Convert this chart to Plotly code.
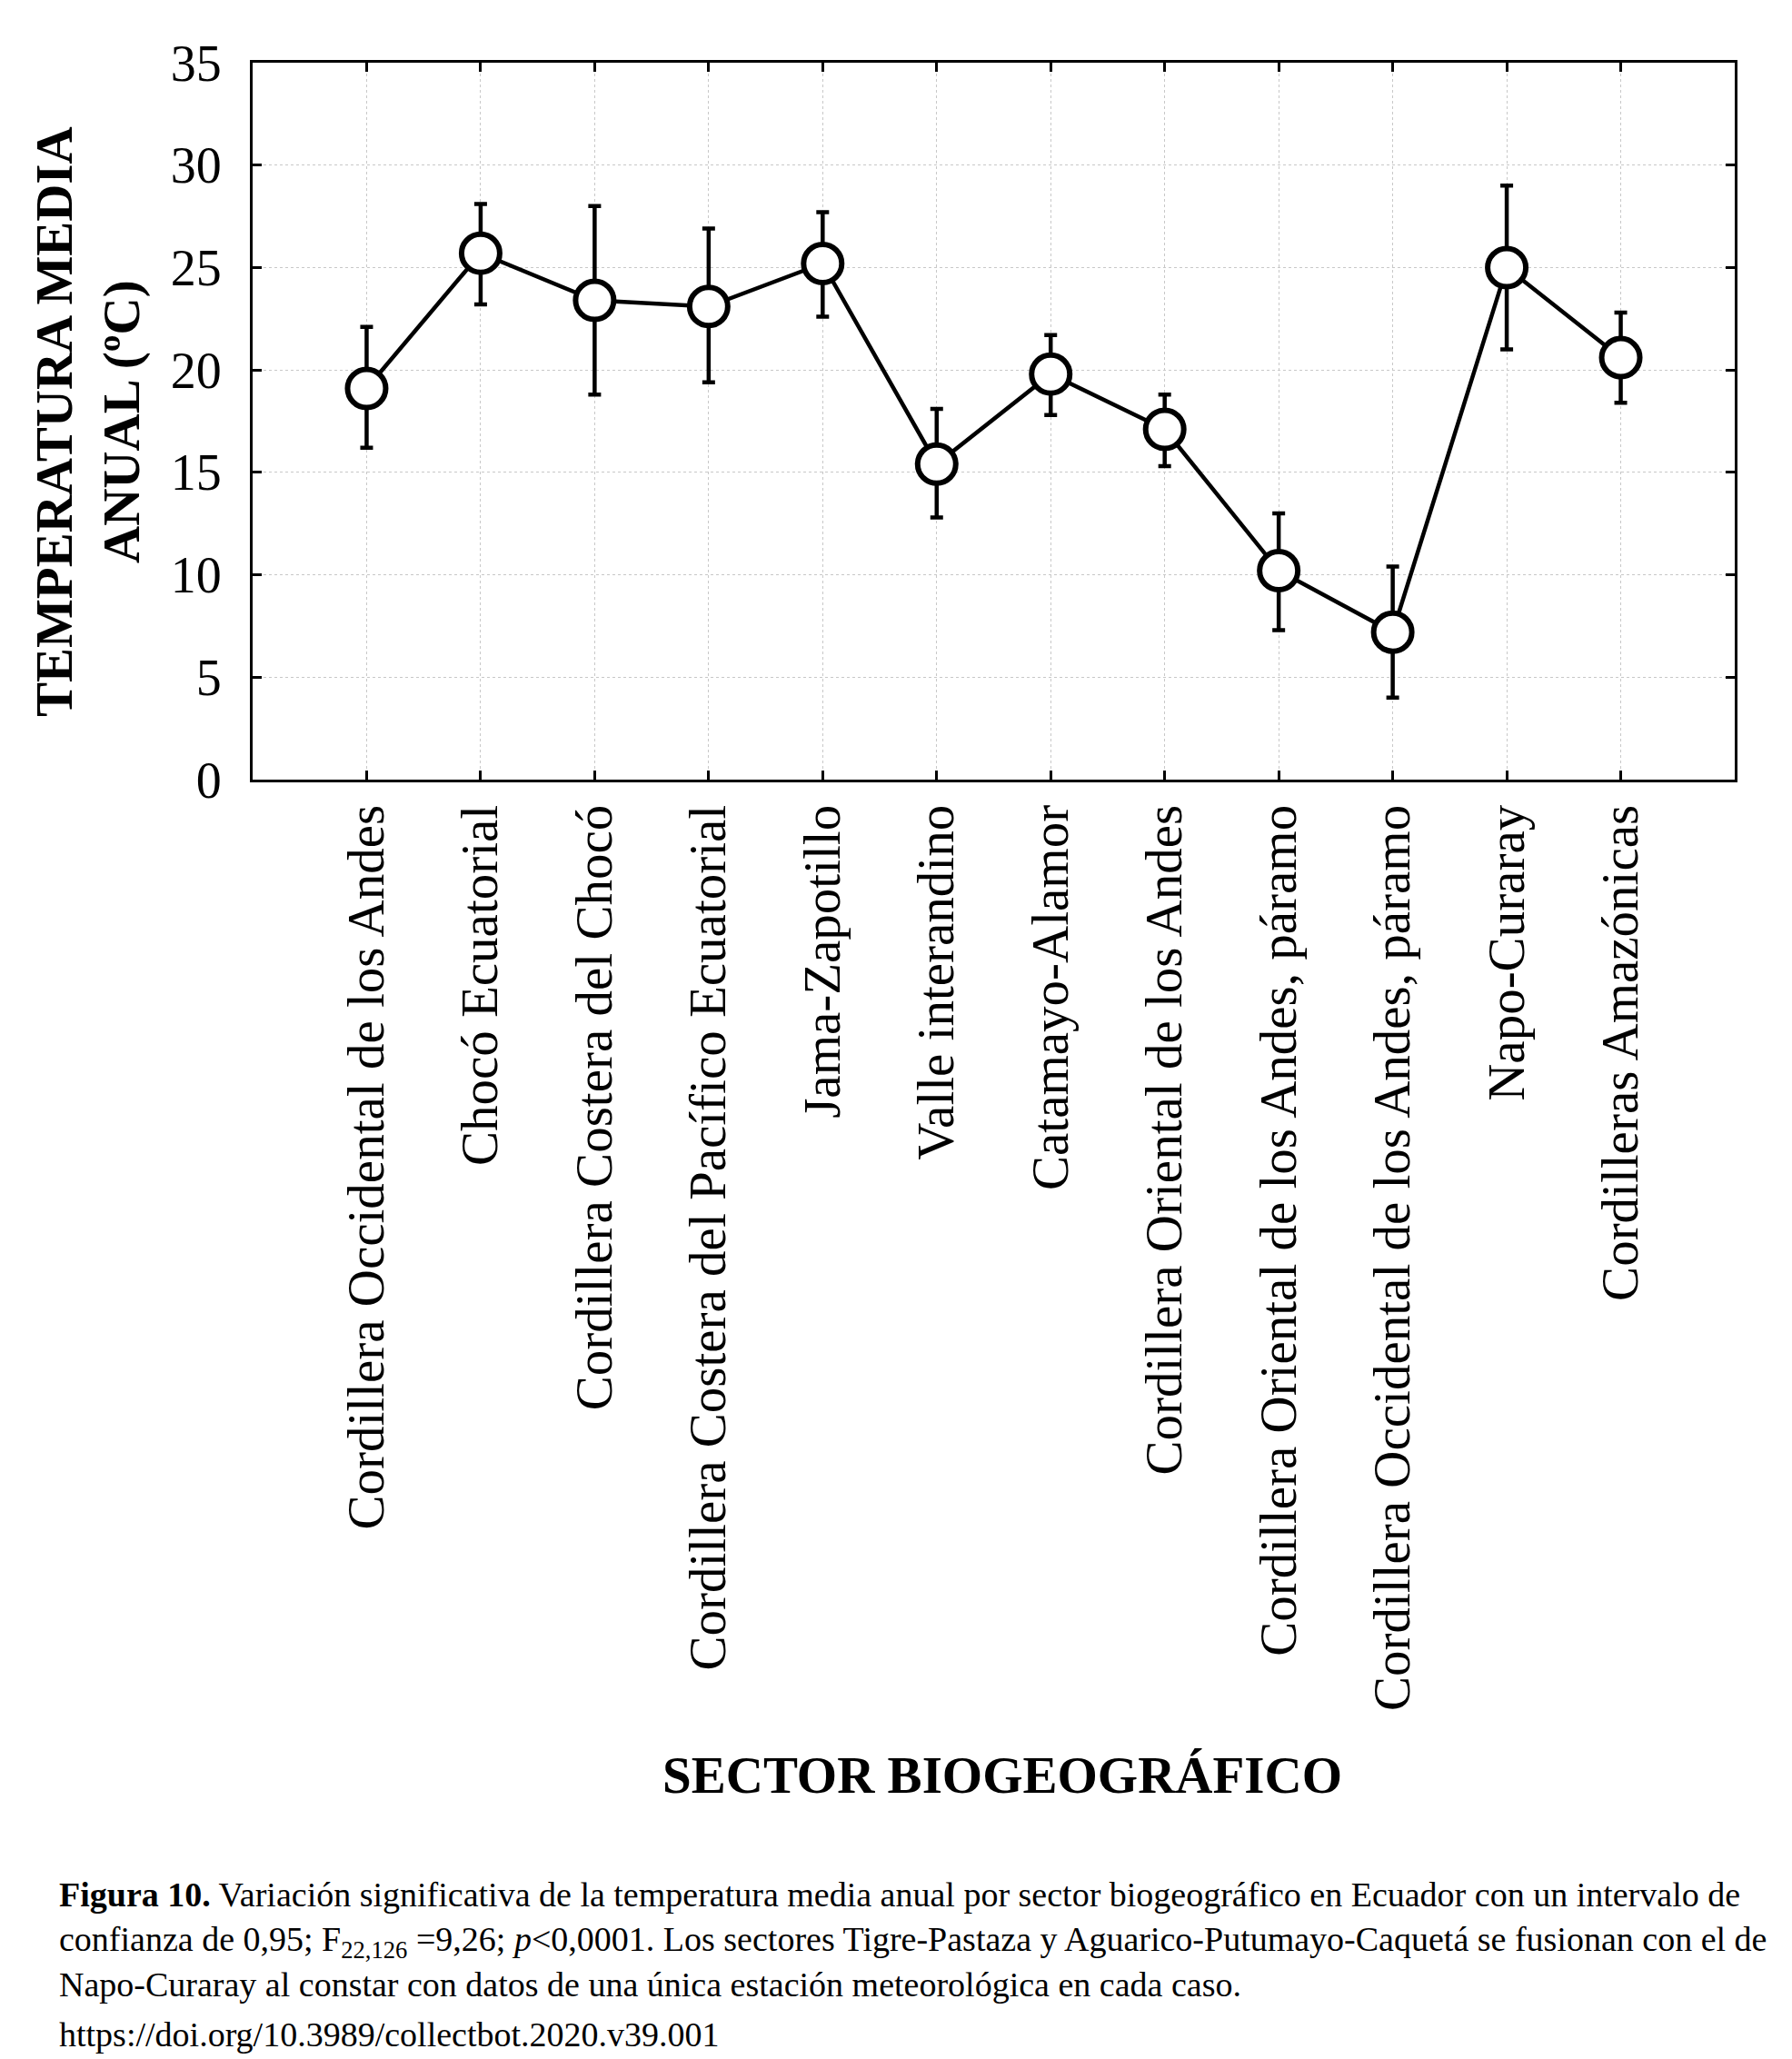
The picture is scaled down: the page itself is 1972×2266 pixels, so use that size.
import plotly.graph_objects as go

# ---- data ----
categories = [
    "Cordillera Occidental de los Andes",
    "Chocó Ecuatorial",
    "Cordillera Costera del Chocó",
    "Cordillera Costera del Pacífico Ecuatorial",
    "Jama-Zapotillo",
    "Valle interandino",
    "Catamayo-Alamor",
    "Cordillera Oriental de los Andes",
    "Cordillera Oriental de los Andes, páramo",
    "Cordillera Occidental de los Andes, páramo",
    "Napo-Curaray",
    "Cordilleras Amazónicas",
]
mean_temp = [19.1, 25.7, 23.4, 23.1, 25.2, 15.4, 19.8, 17.1, 10.2, 7.2, 25.0, 20.6]
ci_upper = [22.1, 28.1, 28.0, 26.9, 27.7, 18.1, 21.7, 18.8, 13.0, 10.4, 29.0, 22.8]
ci_lower = [16.2, 23.2, 18.8, 19.4, 22.6, 12.8, 17.8, 15.3, 7.3, 4.0, 21.0, 18.4]
y_ticks = [0, 5, 10, 15, 20, 25, 30, 35]

err_plus = [u - m for u, m in zip(ci_upper, mean_temp)]
err_minus = [m - l for m, l in zip(mean_temp, ci_lower)]

W, H = 1972, 2266
L, R, T, B = 270, 1901, 61, 850
FONT = "Liberation Serif, Times New Roman, serif"


def px_x(px):
    return (px - L) / (R - L)


def px_y(py):
    return (B - py) / (B - T)


fig = go.Figure()
fig.add_trace(go.Scatter(
    x=categories,
    y=mean_temp,
    mode="lines+markers",
    line=dict(color="black", width=4.5),
    marker=dict(symbol="circle", size=42, color="white",
                line=dict(color="black", width=6)),
    error_y=dict(type="data", symmetric=False, array=err_plus,
                 arrayminus=err_minus, color="black", thickness=4.5, width=7),
    showlegend=False,
))

fig.update_layout(
    width=W, height=H,
    margin=dict(l=L, r=W - R, t=T, b=H - B, autoexpand=False),
    paper_bgcolor="white", plot_bgcolor="white",
    font=dict(family=FONT, color="black"),
)

fig.update_xaxes(
    type="category", range=[-1, 12], automargin=False,
    showline=True, linecolor="black", linewidth=3, mirror="ticks",
    ticks="inside", ticklen=10, tickwidth=3, tickcolor="black",
    tickangle=-90, tickfont=dict(size=57, family=FONT),
    ticklabelstandoff=2,
    showgrid=True, gridcolor="#c8c8c8", griddash="dot", gridwidth=1,
    zeroline=False,
)
fig.update_yaxes(
    range=[0, 35], tickvals=y_ticks, automargin=False,
    showline=True, linecolor="black", linewidth=3, mirror="ticks",
    ticks="inside", ticklen=10, tickwidth=3, tickcolor="black",
    tickfont=dict(size=56, family=FONT),
    ticklabelstandoff=20,
    showgrid=True, gridcolor="#c8c8c8", griddash="dot", gridwidth=1,
    zeroline=False,
)

ann = []
ann.append(dict(
    text="<b>TEMPERATURA MEDIA<br>ANUAL (ºC)</b>", textangle=-90,
    xref="paper", yref="paper", x=px_x(89), y=px_y(456),
    xanchor="center", yanchor="middle", showarrow=False,
    font=dict(size=57, family=FONT, color="black"),
))
ann.append(dict(
    text="<b>SECTOR BIOGEOGRÁFICO</b>",
    xref="paper", yref="paper", x=px_x(1095), y=px_y(1945),
    xanchor="center", yanchor="middle", showarrow=False,
    font=dict(size=57, family=FONT, color="black"),
))

caption_lines = [
    "<b>Figura 10.</b> Variación significativa de la temperatura media anual por sector biogeográfico en Ecuador con un intervalo de",
    "confianza de 0,95; F<sub>22,126</sub> =9,26; <i>p</i>&lt;0,0001. Los sectores Tigre-Pastaza y Aguarico-Putumayo-Caquetá se fusionan con el de",
    "Napo-Curaray al constar con datos de una única estación meteorológica en cada caso.",
    "https://doi.org/10.3989/collectbot.2020.v39.001",
]
caption_y = [2077, 2129, 2176, 2231]
for txt, yy in zip(caption_lines, caption_y):
    ann.append(dict(
        text=txt, xref="paper", yref="paper", x=px_x(55), y=px_y(yy),
        xanchor="left", yanchor="middle", showarrow=False, align="left",
        font=dict(size=38, family=FONT, color="black"),
    ))

fig.update_layout(annotations=ann)
fig.write_html("out.html")
